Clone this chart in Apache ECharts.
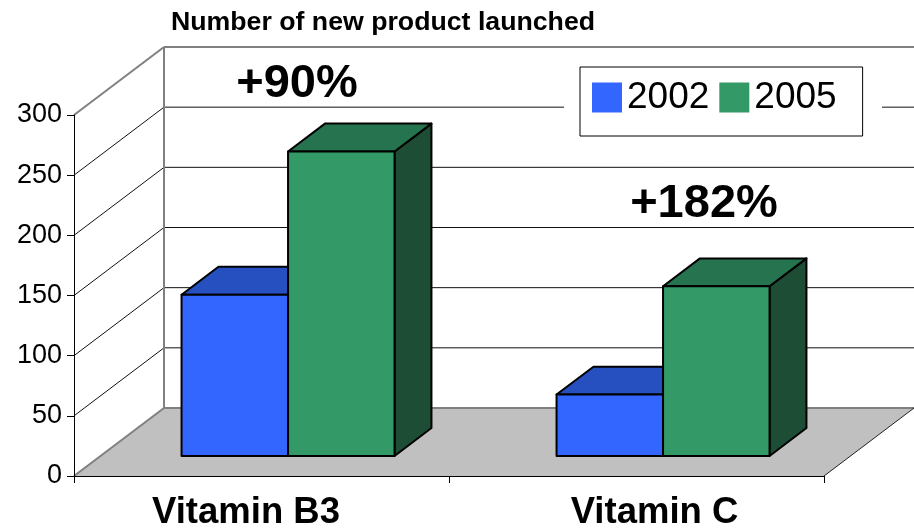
<!DOCTYPE html>
<html>
<head>
    <meta charset="UTF-8"/>
    <script type="text/javascript" src="https://cdn.jsdelivr.net/npm/echarts@6.0.0/dist/echarts.min.js"></script>
    <title>New product launches</title>
    <style>
        html, body { margin: 0; padding: 0; background: #fff; }
        #main { width: 914px; height: 531px; }
    </style>
</head>
<body>
<div id="main"></div>
<script type="text/javascript">
    // chart data
    var categories = ['Vitamin B3', 'Vitamin C']
    var years = ['2002', '2005']
    var values2002 = [134, 51]
    var values2005 = [253, 141]
    var yTicks = [0, 50, 100, 150, 200, 250, 300]
    var growthLabels = ['+90%', '+182%']

    var FONT = 'Liberation Sans, Arial, sans-serif'
    // 3d look: depth of the whole plot and where the bars sit in it
    var DEPTH = [90, -68]
    var BAR_FRONT = 0.295
    var BAR_DEPTH = 0.41
    var BAR_FRAC = 0.284
    var barColors = [
        {front: '#3366ff', top: '#2650c0', side: '#1f40a0'},
        {front: '#339966', top: '#267350', side: '#1d4d34'}
    ]

    function line(x1, y1, x2, y2, stroke, w) {
        return {type: 'line', shape: {x1: x1, y1: y1, x2: x2, y2: y2},
            style: {stroke: stroke, lineWidth: w}, silent: true}
    }

    function renderFrame(params, api) {
        var cs = params.coordSys
        var x0 = cs.x, x1 = cs.x + cs.width
        var dx = DEPTH[0], dy = DEPTH[1]
        var yb = api.coord([0, 0])[1]
        var yt = api.coord([0, yTicks[yTicks.length - 1]])[1]
        var kids = []
        // floor
        kids.push({type: 'polygon', silent: true,
            shape: {points: [[x0, yb], [x1, yb], [x1 + dx, yb + dy], [x0 + dx, yb + dy]]},
            style: {fill: '#c0c0c0'}})
        for (var i = 0; i < yTicks.length; i++) {
            var y = api.coord([0, yTicks[i]])[1]
            var edge = (i === 0 || i === yTicks.length - 1)
            var col = edge ? '#808080' : '#111'
            var lw = edge ? 2 : 1
            kids.push(line(x0 + dx, y + dy, x1 + dx, y + dy, col, lw))
            kids.push(line(x0, y, x0 + dx, y + dy, col, lw))
        }
        // back wall left edge
        kids.push(line(x0 + dx, yb + dy, x0 + dx, yt + dy, '#808080', 2))
        // floor right edge
        kids.push(line(x1, yb, x1 + dx, yb + dy, '#222', 1))
        return {type: 'group', children: kids}
    }

    function barRenderer(si) {
        return function (params, api) {
            var ci = api.value(0)
            var top = api.coord([ci, api.value(1)])
            var base = api.coord([ci, 0])
            var band = api.size([1, 0])[0]
            var w = band * BAR_FRAC
            var sx = DEPTH[0] * BAR_FRONT, sy = DEPTH[1] * BAR_FRONT
            var ddx = DEPTH[0] * BAR_DEPTH, ddy = DEPTH[1] * BAR_DEPTH
            var L = top[0] - w + si * w + sx
            var R = L + w
            var T = top[1] + sy
            var B = base[1] + sy
            var c = barColors[si]
            var st = {stroke: '#000', lineWidth: 2, lineJoin: 'round'}
            return {
                type: 'group',
                children: [
                    {type: 'polygon', shape: {points: [[R, T], [R + ddx, T + ddy], [R + ddx, B + ddy], [R, B]]},
                        style: Object.assign({fill: c.side}, st)},
                    {type: 'polygon', shape: {points: [[L, T], [R, T], [R + ddx, T + ddy], [L + ddx, T + ddy]]},
                        style: Object.assign({fill: c.top}, st)},
                    {type: 'rect', shape: {x: L, y: T, width: w, height: B - T},
                        style: Object.assign({fill: c.front}, st)}
                ]
            }
        }
    }

    function toData(vals) {
        var d = []
        for (var i in vals) {
            d.push([Number(i), vals[i]])
        }
        return d
    }

    var myChart = echarts.init(document.getElementById('main'))

    var option = {
        animation: false,
        backgroundColor: '#fff',
        title: {
            text: 'Number of new product launched',
            left: 166,
            top: 4,
            textStyle: {fontSize: 26.7, fontWeight: 'bold', color: '#000', fontFamily: FONT}
        },
        legend: {
            data: years,
            left: 580,
            top: 67,
            z: 4,
            icon: 'rect',
            itemWidth: 30,
            itemHeight: 30,
            itemGap: 10,
            padding: [12, 26, 20, 12],
            borderColor: '#000',
            borderWidth: 1,
            backgroundColor: '#fff',
            textStyle: {fontSize: 37, color: '#000', fontFamily: FONT}
        },
        grid: [
            {left: 74, right: 90, top: 115, bottom: 55},
            // only used to place the category names
            {left: 41.75, right: 55.25, top: 115, bottom: 55}
        ],
        xAxis: [
            {
                gridIndex: 0,
                type: 'category',
                data: categories,
                z: 10,
                axisLine: {show: true, lineStyle: {color: '#000', width: 1}},
                axisTick: {show: true, length: 7, lineStyle: {color: '#000'}},
                axisLabel: {show: false},
                splitLine: {show: false}
            },
            {
                gridIndex: 1,
                type: 'category',
                data: categories,
                axisLine: {show: false},
                axisTick: {show: false},
                axisLabel: {margin: 24, fontSize: 36.5, fontWeight: 'bold', color: '#000', fontFamily: FONT},
                splitLine: {show: false}
            }
        ],
        yAxis: [
            {
                gridIndex: 0,
                type: 'value',
                min: 0,
                max: 300,
                interval: 50,
                z: 10,
                axisLine: {show: true, lineStyle: {color: '#000', width: 1}},
                axisTick: {show: true, length: 7, lineStyle: {color: '#000'}},
                axisLabel: {margin: 12, fontSize: 27, color: '#000', fontFamily: FONT},
                splitLine: {show: false}
            },
            {gridIndex: 1, type: 'value', min: 0, max: 1, show: false}
        ],
        graphic: [
            // white patch behind the legend, the gridline stops short of it
            {type: 'rect', z: 3, silent: true, shape: {x: 564, y: 67, width: 318, height: 69}, style: {fill: '#fff'}},
            {type: 'text', z: 5, style: {text: growthLabels[0], x: 297, y: 84.5, align: 'center', verticalAlign: 'middle',
                    font: 'bold 47px ' + FONT, fill: '#000'}},
            {type: 'text', z: 5, style: {text: growthLabels[1], x: 704, y: 204, align: 'center', verticalAlign: 'middle',
                    font: 'bold 47px ' + FONT, fill: '#000'}}
        ],
        series: [
            {
                type: 'custom',
                name: 'frame',
                silent: true,
                z: 1,
                xAxisIndex: 0,
                yAxisIndex: 0,
                renderItem: renderFrame,
                encode: {x: 0, y: 1},
                data: [[0, 0]]
            },
            {
                type: 'custom',
                name: years[0],
                z: 2,
                xAxisIndex: 0,
                yAxisIndex: 0,
                itemStyle: {color: barColors[0].front},
                renderItem: barRenderer(0),
                encode: {x: 0, y: 1},
                data: toData(values2002)
            },
            {
                type: 'custom',
                name: years[1],
                z: 2,
                xAxisIndex: 0,
                yAxisIndex: 0,
                itemStyle: {color: barColors[1].front},
                renderItem: barRenderer(1),
                encode: {x: 0, y: 1},
                data: toData(values2005)
            }
        ]
    }

    myChart.setOption(option)
</script>
</body>
</html>
